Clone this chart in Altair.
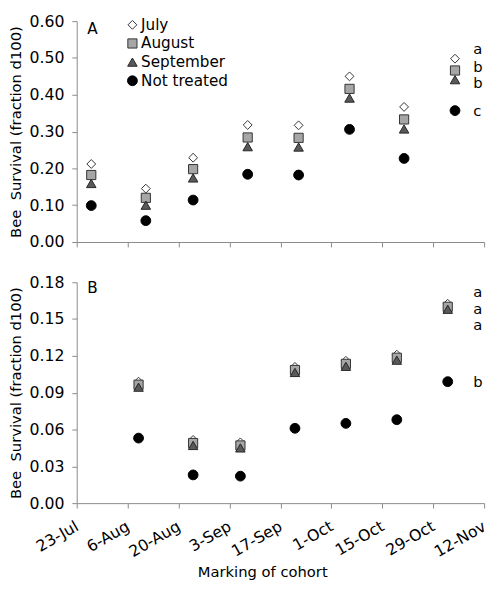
import altair as alt
import pandas as pd

# ---------------- data ----------------
series = ["July", "August", "September", "Not treated"]
shapes = ["diamond", "square", "triangle-up", "circle"]
fills = ["#ffffff", "#a6a6a6", "#595959", "#000000"]
strokes = ["#333333", "#333333", "#262626", "#000000"]
sizes = [81, 100, 121, 121]

dates_A = ["2009-07-27", "2009-08-11", "2009-08-24", "2009-09-08",
           "2009-09-22", "2009-10-06", "2009-10-21", "2009-11-04"]
july_A = [0.212, 0.145, 0.229, 0.318, 0.317, 0.450, 0.367, 0.498]
aug_A = [0.182, 0.120, 0.198, 0.284, 0.283, 0.416, 0.333, 0.466]
sep_A = [0.159, 0.100, 0.174, 0.259, 0.258, 0.391, 0.307, 0.441]
nt_A = [0.099, 0.058, 0.114, 0.184, 0.182, 0.306, 0.227, 0.357]

dates_B = ["2009-08-09", "2009-08-24", "2009-09-06", "2009-09-21",
           "2009-10-05", "2009-10-19", "2009-11-02"]
july_B = [0.099, 0.0515, 0.0495, 0.111, 0.116, 0.121, 0.1625]
aug_B = [0.0965, 0.049, 0.047, 0.1085, 0.1135, 0.1185, 0.160]
sep_B = [0.0945, 0.047, 0.045, 0.1065, 0.1115, 0.1165, 0.158]
nt_B = [0.053, 0.023, 0.022, 0.061, 0.065, 0.068, 0.099]

letters_A = ["a", "b", "b", "c"]
letters_A_y = [0.510, 0.463, 0.419, 0.341]
letters_B = ["a", "a", "a", "b"]
letters_B_y = [0.168, 0.154, 0.141, 0.095]
letter_date = "2009-11-09"

x_ticks = ["2009-07-23", "2009-08-06", "2009-08-20", "2009-09-03", "2009-09-17",
           "2009-10-01", "2009-10-15", "2009-10-29", "2009-11-12"]
y_ticks_A = [0.0, 0.1, 0.2, 0.3, 0.4, 0.5, 0.6]
y_ticks_B = [0.0, 0.03, 0.06, 0.09, 0.12, 0.15, 0.18]

FONT = "DejaVu Sans"
AXIS_GRAY = "#8a8a8a"


def to_dt(s):
    y, m, d = (int(p) for p in s.split("-"))
    return alt.DateTime(year=y, month=m, date=d)


def long_df(dates, cols):
    rows = []
    for i, (name, vals) in enumerate(zip(series, cols)):
        for d, v in zip(dates, vals):
            rows.append({"series": name, "order": i, "date": d + "T00:00:00", "value": v})
    return pd.DataFrame(rows)


df_A = long_df(dates_A, [july_A, aug_A, sep_A, nt_A])
df_B = long_df(dates_B, [july_B, aug_B, sep_B, nt_B])
let_A = pd.DataFrame({"date": [letter_date + "T00:00:00"] * 4, "value": letters_A_y, "txt": letters_A})
let_B = pd.DataFrame({"date": [letter_date + "T00:00:00"] * 4, "value": letters_B_y, "txt": letters_B})

tick_dt = [to_dt(t) for t in x_ticks]
x_scale = alt.Scale(domain=[tick_dt[0], tick_dt[-1]])

W, H = 415, 225


def panel(df, lets, label, ymax, yticks, show_x, show_legend, lab_y):
    if show_legend:
        leg = alt.Legend(orient="none", legendX=49, legendY=-4, title=None,
                         labelFontSize=15.5, labelFont=FONT, labelColor="#000000",
                         rowPadding=2, labelOffset=1, padding=0, symbolStrokeWidth=1)
    else:
        leg = None
    if show_x:
        xaxis = alt.Axis(values=tick_dt, format="%-d-%b", labelAngle=-30,
                         labelAlign="right", labelBaseline="middle", labelPadding=17,
                         labelOverlap=False,
                         title="Marking of cohort", titlePadding=5, titleX=189)
    else:
        xaxis = alt.Axis(values=tick_dt, labels=False, title=None)
    yaxis = alt.Axis(values=yticks, format=".2f", labelOverlap=False, titlePadding=6,
                     title="Bee\u00a0 Survival (fraction d100)")
    y_scale = alt.Scale(domain=[0, ymax], nice=False)
    x_enc = alt.X("date:T", scale=x_scale, axis=xaxis)
    y_enc = alt.Y("value:Q", scale=y_scale, axis=yaxis)
    pts = alt.Chart(df).mark_point(filled=True, opacity=1, strokeWidth=1).encode(
        x=x_enc,
        y=y_enc,
        shape=alt.Shape("series:N", scale=alt.Scale(domain=series, range=shapes), legend=leg),
        fill=alt.Fill("series:N", scale=alt.Scale(domain=series, range=fills), legend=leg),
        stroke=alt.Stroke("series:N", scale=alt.Scale(domain=series, range=strokes), legend=leg),
        size=alt.Size("series:N", scale=alt.Scale(domain=series, range=sizes), legend=leg),
        order=alt.Order("order:Q"),
    )
    txt = alt.Chart(lets).mark_text(align="left", baseline="alphabetic", fontSize=15,
                                    font=FONT, color="#000000").encode(
        x=x_enc,
        y=y_enc,
        text="txt:N",
    )
    lab = alt.Chart(pd.DataFrame({"panel": [label]})).mark_text(
        align="center", baseline="middle", fontSize=15.5, font=FONT, color="#000000").encode(
        x=alt.value(16), y=alt.value(lab_y), text="panel:N")
    return alt.layer(pts, txt, lab).properties(width=W, height=H)


pA = panel(df_A, let_A, "A", 0.6, y_ticks_A, False, True, 8)
pB = panel(df_B, let_B, "B", 0.18, y_ticks_B, True, False, 6)

chart = alt.vconcat(pA, pB, spacing=41, bounds="flush").resolve_scale(
    y="independent"
).resolve_legend(shape="independent", fill="independent", stroke="independent",
                 size="independent").properties(
    padding={"left": 0, "top": 0, "right": 2, "bottom": 0}
).configure(font=FONT).configure_view(stroke=None).configure_axis(
    grid=False, domainColor=AXIS_GRAY, tickColor=AXIS_GRAY, tickSize=5,
    labelFont=FONT, labelFontSize=16, labelColor="#000000", labelPadding=8,
    labelOverlap=False,
    titleFont=FONT, titleFontSize=15, titleFontWeight="normal", titleColor="#000000",
    titlePadding=3,
)

chart.save("out.html", embed_options={"renderer": "svg", "actions": False})
